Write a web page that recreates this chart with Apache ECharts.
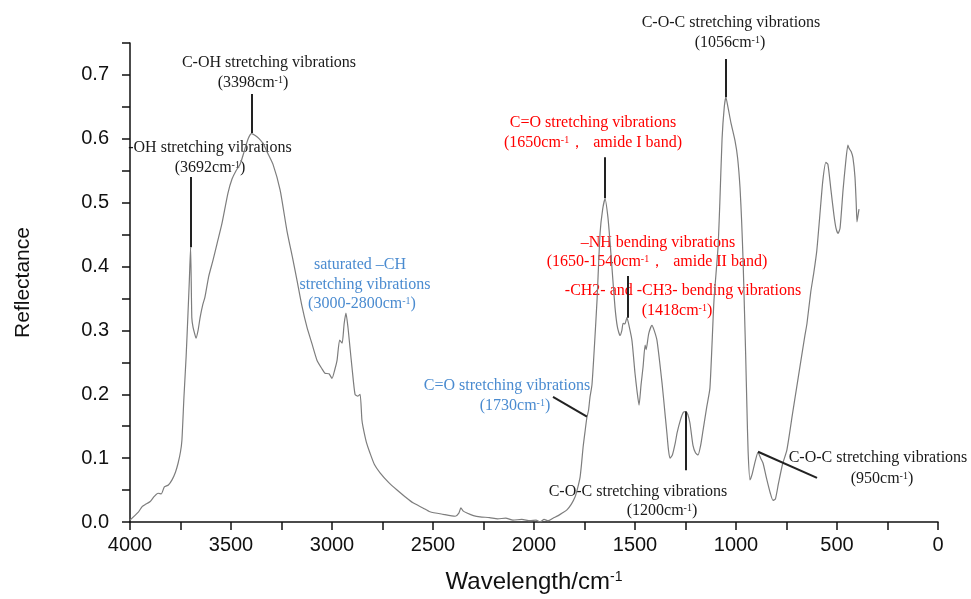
<!DOCTYPE html>
<html lang="en">
  <head>
    <meta charset="UTF-8" />
    <title>FTIR reflectance spectrum</title>
    <script src="https://cdn.jsdelivr.net/npm/echarts@6/dist/echarts.min.js"></script>
    <style>
      * {
        margin: 0;
        padding: 0;
      }
      body {
        background: #fff;
      }
      #chart {
        width: 971px;
        height: 599px;
      }
    </style>
  </head>
  <body>
    <div id="chart"></div>
    <script>
      // wavenumber (cm-1)
      const wavenumber = [
        4000, 3960, 3940, 3926, 3900, 3880, 3861, 3845, 3830, 3810, 3792, 3775, 3762, 3750, 3743,
        3733, 3722, 3713, 3706, 3700, 3694, 3688, 3680, 3673, 3663, 3653, 3640,
        3629, 3610, 3589, 3569, 3545, 3515, 3495, 3475, 3455, 3435, 3415, 3398,
        3380, 3360, 3340, 3322, 3292, 3257, 3223, 3193, 3173, 3150, 3124, 3100,
        3074, 3050, 3035, 3015, 3000, 2985, 2975, 2962, 2950, 2940, 2931, 2921,
        2910, 2901, 2886, 2872, 2861, 2852, 2846, 2830, 2812, 2790, 2762, 2720,
        2678, 2640, 2599, 2550, 2515, 2450, 2390, 2372, 2362, 2350, 2332, 2300,
        2267, 2220, 2180, 2140, 2104, 2060, 2020, 1990, 1970, 1950, 1930, 1906,
        1880, 1860, 1837, 1815, 1797, 1785, 1772, 1765, 1757, 1748, 1738, 1730,
        1723, 1713, 1700, 1688, 1673, 1660, 1648, 1634, 1624, 1614, 1599, 1587,
        1574, 1565, 1559, 1550, 1540, 1528, 1515, 1500, 1490, 1480, 1470, 1460,
        1450, 1445, 1432, 1416, 1405, 1391, 1366, 1350, 1342, 1335, 1327, 1315,
        1300, 1292, 1275, 1260, 1248, 1238, 1228, 1213, 1200, 1188, 1175, 1163,
        1145, 1129, 1109, 1089, 1080, 1069, 1058, 1050, 1040, 1025, 1005, 992,
        980, 972, 965, 958, 952, 946, 940, 931, 920, 905, 891, 878, 866, 850,
        830, 817, 805, 790, 770, 748, 720, 700, 684, 660, 649, 630, 615, 600,
        585, 570, 555, 545, 530, 515, 505, 495, 485, 470, 458, 446, 440, 430,
        421, 411, 405, 401, 396, 391,
      ];
      const reflectance = [
        0.003, 0.015, 0.024, 0.027, 0.032, 0.04, 0.045, 0.044, 0.055, 0.058, 0.066, 0.078, 0.092, 0.11, 0.128,
        0.195, 0.26, 0.326, 0.38, 0.43, 0.32, 0.305, 0.295, 0.288, 0.3, 0.32, 0.34,
        0.352, 0.385, 0.41, 0.436, 0.467, 0.515, 0.537, 0.55, 0.56, 0.58, 0.6, 0.608,
        0.605, 0.6, 0.592, 0.58, 0.56, 0.52, 0.456, 0.41, 0.378, 0.34, 0.305, 0.28,
        0.253, 0.24, 0.233, 0.232, 0.225, 0.24, 0.253, 0.285, 0.28, 0.31, 0.327, 0.305,
        0.27, 0.242, 0.2, 0.197, 0.2, 0.16, 0.148, 0.125, 0.108, 0.09, 0.077, 0.062,
        0.05, 0.04, 0.03, 0.022, 0.016, 0.012, 0.009, 0.014, 0.022, 0.017, 0.014, 0.01,
        0.008, 0.007, 0.005, 0.006, 0.003, 0.004, 0.002, 0.003, 0.0, 0.004, 0.002, 0.006,
        0.01, 0.014, 0.019, 0.028, 0.039, 0.052, 0.07, 0.09, 0.117, 0.14, 0.164, 0.175,
        0.195, 0.215, 0.28, 0.347, 0.452, 0.49, 0.506, 0.477, 0.44, 0.398, 0.336, 0.305,
        0.292, 0.3, 0.311, 0.31, 0.32, 0.305, 0.284, 0.233, 0.205, 0.183, 0.215, 0.243,
        0.277, 0.27, 0.295, 0.308, 0.3, 0.284, 0.217, 0.165, 0.139, 0.115, 0.1, 0.105,
        0.125, 0.139, 0.16, 0.172, 0.173, 0.168, 0.155, 0.12, 0.108, 0.105, 0.12, 0.144,
        0.18, 0.21, 0.347, 0.43, 0.5, 0.6, 0.65, 0.665, 0.65, 0.625, 0.597, 0.57,
        0.523, 0.47, 0.41, 0.33, 0.26, 0.18, 0.11, 0.066, 0.075, 0.095, 0.109, 0.1, 0.092, 0.07,
        0.045, 0.034, 0.036, 0.06, 0.09, 0.113, 0.17, 0.21, 0.242, 0.29, 0.31, 0.36, 0.39, 0.425,
        0.48, 0.535, 0.563, 0.56, 0.52, 0.48, 0.46, 0.452, 0.46, 0.52, 0.56, 0.59, 0.585, 0.58,
        0.57, 0.54, 0.5, 0.47, 0.48, 0.49,
      ];

      // leader lines, [x1, y1, x2, y2] in data units
      const leaders = [
        [3398, 0.67, 3398, 0.609],
        [3700, 0.54, 3700, 0.43],
        [1650, 0.571, 1650, 0.507],
        [1537, 0.385, 1537, 0.32],
        [1052, 0.725, 1052, 0.665],
        [1250, 0.173, 1250, 0.081],
        [1906, 0.196, 1738, 0.165],
        [891, 0.11, 599, 0.069],
      ];

      // annotation text: [text, centre x, centre y, colour]
      const BLACK = "#1a1a1a";
      const RED = "#ff0000";
      const BLUE = "#4a8bd0";
      const notes = [
        ["C-OH stretching vibrations", 269, 63, BLACK],
        ["(3398cm-1)", 253, 83, BLACK],
        ["-OH stretching vibrations", 210, 148, BLACK],
        ["(3692cm-1)", 210, 168, BLACK],
        ["C-O-C stretching vibrations", 731, 23, BLACK],
        ["(1056cm-1)", 730, 43, BLACK],
        ["C-O-C stretching vibrations", 638, 492, BLACK],
        ["(1200cm-1)", 662, 511, BLACK],
        ["C-O-C stretching vibrations", 878, 458, BLACK],
        ["(950cm-1)", 882, 479, BLACK],
        ["saturated \u2013CH", 360, 265, BLUE],
        ["stretching vibrations", 365, 285, BLUE],
        ["(3000-2800cm-1)", 362, 304, BLUE],
        ["C=O stretching vibrations", 507, 386, BLUE],
        ["(1730cm-1)", 515, 406, BLUE],
        ["C=O stretching vibrations", 593, 123, RED],
        ["(1650cm-1\uff0c  amide I band)", 593, 143, RED],
        ["\u2013NH bending vibrations", 658, 243, RED],
        ["(1650-1540cm-1\uff0c  amide II band)", 657, 262, RED],
        ["-CH2- and -CH3- bending vibrations", 683, 291, RED],
        ["(1418cm-1)", 677, 311, RED],
      ];

      const points = wavenumber.map((w, i) => [w, reflectance[i]]);

      const serif = "Liberation Serif";
      const graphics = notes.map(([text, x, y, color]) => ({
        type: "text",
        x: x,
        y: y,
        silent: true,
        style: {
          text: text.replace("cm-1", "cm{s|-1}"),
          fontSize: 16,
          fontFamily: serif,
          fill: color,
          align: "center",
          verticalAlign: "middle",
          rich: {
            s: {
              fontSize: 10,
              fontFamily: serif,
              fill: color,
              verticalAlign: "top",
            },
          },
        },
      }));

      const chart = echarts.init(document.getElementById("chart"));
      chart.setOption({
        animation: false,
        backgroundColor: "#fff",
        grid: {
          left: 130,
          right: 33,
          top: 43,
          bottom: 77,
          containLabel: false,
          outerBoundsMode: "none",
        },
        xAxis: {
          type: "value",
          inverse: true,
          min: 0,
          max: 4000,
          interval: 250,
          name: "Wavelength/cm{s|-1}",
          nameLocation: "middle",
          nameGap: 48,
          nameTextStyle: {
            fontSize: 24,
            fontFamily: "Liberation Sans",
            color: "#111",
            rich: {
              s: {
                fontSize: 14,
                fontFamily: "Liberation Sans",
                color: "#111",
                verticalAlign: "top",
              },
            },
          },
          axisLine: { show: true, onZero: false, lineStyle: { color: "#111", width: 1.5 } },
          axisTick: { show: true, inside: false, length: 8, lineStyle: { color: "#111", width: 1.5 } },
          splitLine: { show: false },
          axisLabel: {
            margin: 13,
            fontSize: 20,
            fontFamily: "Liberation Sans",
            color: "#111",
            formatter: (v) => (v % 500 === 0 ? String(v) : ""),
          },
        },
        yAxis: {
          type: "value",
          min: 0,
          max: 0.75,
          interval: 0.05,
          name: "Reflectance",
          nameLocation: "middle",
          nameGap: 96,
          nameRotate: 90,
          nameTextStyle: {
            fontSize: 21,
            fontFamily: "Liberation Sans",
            color: "#111",
          },
          axisLine: { show: true, onZero: false, lineStyle: { color: "#111", width: 1.5 } },
          axisTick: { show: true, inside: false, length: 8, lineStyle: { color: "#111", width: 1.5 } },
          splitLine: { show: false },
          axisLabel: {
            margin: 21,
            fontSize: 20,
            fontFamily: "Liberation Sans",
            color: "#111",
            formatter: (v) => (Math.round(v * 100) % 10 === 0 ? v.toFixed(1) : ""),
          },
        },
        series: [
          {
            type: "line",
            data: points,
            showSymbol: false,
            smooth: 0.2,
            lineStyle: { color: "#7d7d7d", width: 1.2 },
            markLine: {
              silent: true,
              symbol: ["none", "none"],
              label: { show: false },
              lineStyle: { color: "#222", width: 2, type: "solid" },
              data: leaders.map((l) => [
                { coord: [l[0], l[1]] },
                { coord: [l[2], l[3]] },
              ]),
            },
          },
        ],
        graphic: graphics,
      });
    </script>
  </body>
</html>
